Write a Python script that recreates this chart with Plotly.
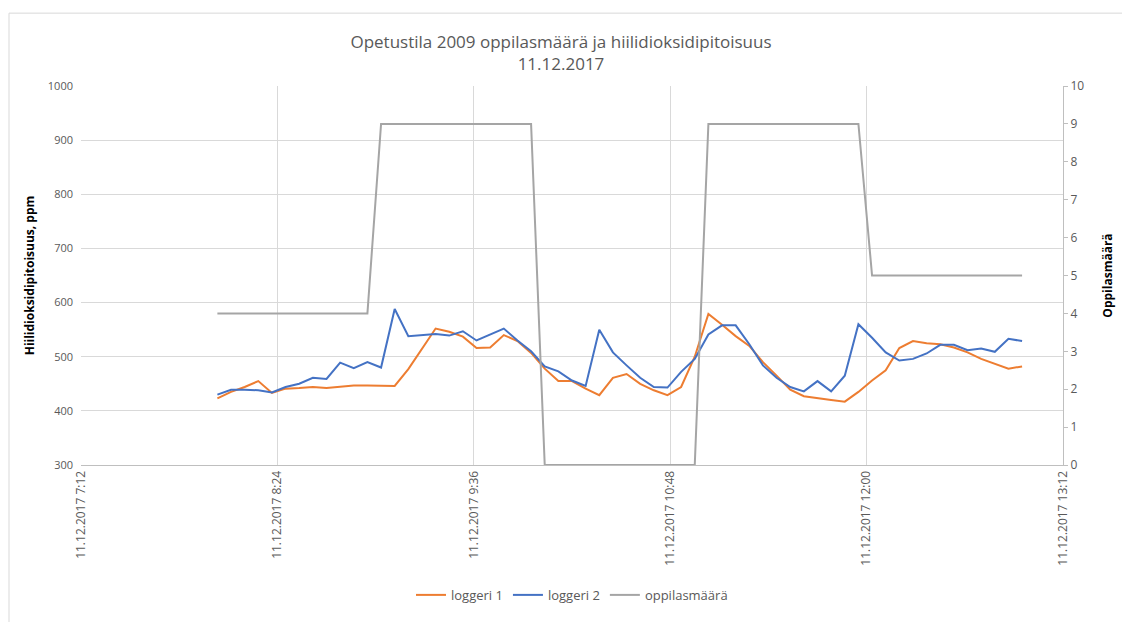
import pandas as pd
import plotly.graph_objects as go

# Measurement times: 5-minute logger interval on 11.12.2017
times = pd.date_range("2017-12-11 08:02", periods=60, freq="5min")

# CO2 concentration (ppm) from the two loggers
loggeri_1 = [
    423, 435, 444, 455, 433, 441, 442, 444, 442, 445,
    447, 447, 447, 446, 477, 515, 552, 546, 537, 516,
    517, 540, 529, 507, 478, 455, 455, 441, 429, 461,
    468, 450, 438, 429, 444, 500, 579, 559, 538, 520,
    490, 465, 439, 427, 423, 420, 417, 435, 456, 475,
    516, 529, 525, 523, 517, 508, 496, 487, 478, 482,
]
loggeri_2 = [
    430, 439, 439, 438, 434, 444, 450, 461, 459, 489,
    479, 490, 480, 588, 538, 540, 542, 539, 547, 530,
    541, 552, 530, 510, 482, 473, 456, 446, 550, 508,
    484, 461, 444, 443, 472, 496, 541, 558, 558, 523,
    484, 461, 444, 436, 455, 436, 465, 560, 535, 508,
    493, 496, 506, 522, 522, 512, 515, 509, 533, 529,
]
# Number of pupils in the room
oppilasmaara = [
    4, 4, 4, 4, 4, 4, 4, 4, 4, 4, 4, 4,
    9, 9, 9, 9, 9, 9, 9, 9, 9, 9, 9, 9,
    0, 0, 0, 0, 0, 0, 0, 0, 0, 0, 0, 0,
    9, 9, 9, 9, 9, 9, 9, 9, 9, 9, 9, 9,
    5, 5, 5, 5, 5, 5, 5, 5, 5, 5, 5, 5,
]

# Time axis ticks
tick_vals = [
    "2017-12-11 07:12", "2017-12-11 08:24", "2017-12-11 09:36",
    "2017-12-11 10:48", "2017-12-11 12:00", "2017-12-11 13:12",
]
tick_text = [
    "11.12.2017 7:12", "11.12.2017 8:24", "11.12.2017 9:36",
    "11.12.2017 10:48", "11.12.2017 12:00", "11.12.2017 13:12",
]

FONT = "Open Sans"
TXT = "#595959"
GRID = "#d9d9d9"

fig = go.Figure()
fig.add_trace(go.Scatter(x=times, y=loggeri_1, name="loggeri 1", mode="lines",
                         line=dict(color="#ED7D31", width=2)))
fig.add_trace(go.Scatter(x=times, y=loggeri_2, name="loggeri 2", mode="lines",
                         line=dict(color="#4472C4", width=2)))
fig.add_trace(go.Scatter(x=times, y=oppilasmaara, name="oppilasmäärä", mode="lines",
                         line=dict(color="#A5A5A5", width=2), yaxis="y2"))

fig.update_layout(
    width=1122, height=622,
    paper_bgcolor="white", plot_bgcolor="white",
    margin=dict(l=81, r=59, t=86, b=151),
    font=dict(family=FONT, color=TXT),
    title=dict(
        text="Opetustila 2009 oppilasmäärä ja hiilidioksidipitoisuus<br>11.12.2017",
        x=0.5, xanchor="center", y=1 - 48 / 622, yanchor="middle",
        font=dict(family=FONT, size=17, color=TXT),
    ),
    xaxis=dict(
        type="date",
        range=[tick_vals[0], tick_vals[-1]],
        tickvals=tick_vals, ticktext=tick_text, tickangle=-90,
        tickfont=dict(size=12, color=TXT),
        showgrid=True, gridcolor=GRID, gridwidth=1,
        showline=True, linecolor="#bfbfbf", linewidth=1,
        zeroline=False, ticks="", automargin=False,
    ),
    yaxis=dict(
        range=[300, 1000], dtick=100,
        tickfont=dict(size=11, color=TXT), ticklabelstandoff=7,
        showgrid=True, gridcolor=GRID, gridwidth=1,
        showline=False, zeroline=False, ticks="", automargin=False,
        title=dict(text="<b>Hiilidioksidipitoisuus, ppm</b>",
                   font=dict(size=12, color="#000000"), standoff=10),
    ),
    yaxis2=dict(
        overlaying="y", side="right",
        range=[0, 10], dtick=1,
        tickfont=dict(size=12, color=TXT),
        showgrid=False, zeroline=False,
        showline=True, linecolor="#bfbfbf", linewidth=1,
        ticks="outside", ticklen=4, tickcolor="#bfbfbf", automargin=False,
        title=dict(text="<b>Oppilasmäärä</b>",
                   font=dict(size=12, color="#000000"), standoff=20),
    ),
    legend=dict(
        orientation="h", x=0.5, xanchor="center",
        y=(471 - 603) / 385, yanchor="middle",
        font=dict(size=13, color=TXT),
        bgcolor="rgba(0,0,0,0)",
    ),
    shapes=[dict(
        type="rect", xref="paper", yref="paper",
        x0=(9 - 81) / 982, x1=(1135 - 81) / 982,
        y0=(471 - 635) / 385, y1=(471 - 12) / 385,
        line=dict(color="#d9d9d9", width=1), fillcolor="rgba(0,0,0,0)", layer="below",
    )],
)

fig.write_html("out.html")
